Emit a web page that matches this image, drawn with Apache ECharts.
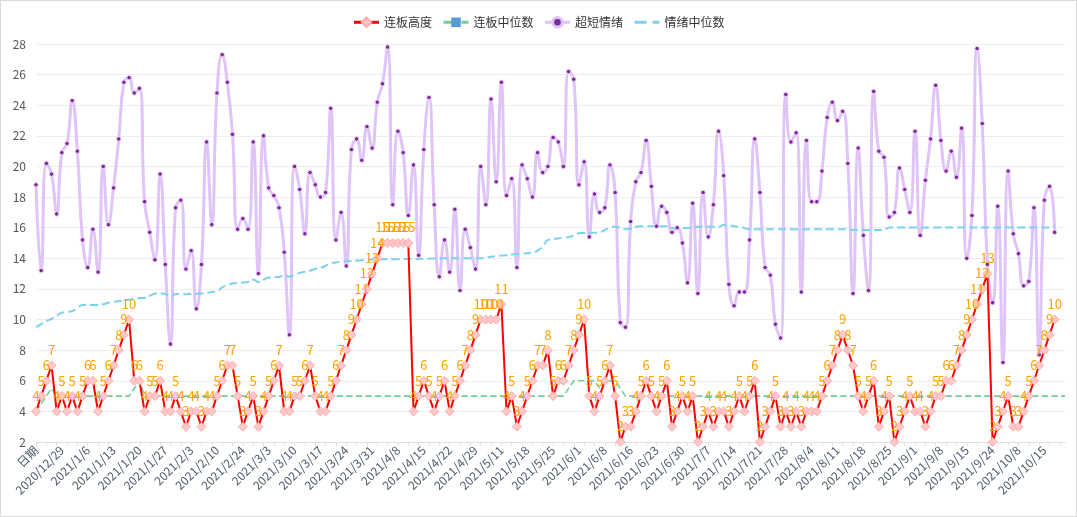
<!DOCTYPE html>
<html>
<head>
<meta charset="utf-8">
<script src="https://cdn.jsdelivr.net/npm/echarts@6/dist/echarts.min.js"></script>
<style>
html,body{margin:0;padding:0;background:#fff;}
#c{width:1077px;height:517px;box-sizing:border-box;border:1px solid #d9d9d9;}
</style>
</head>
<body>
<div id="c"></div>
<script>
var categories = ["日期","2020/12/23","2020/12/24","2020/12/25","2020/12/28","2020/12/29","2020/12/30","2020/12/31","2021/1/4","2021/1/5",
"2021/1/6","2021/1/7","2021/1/8","2021/1/11","2021/1/12","2021/1/13","2021/1/14","2021/1/15","2021/1/18","2021/1/19",
"2021/1/20","2021/1/21","2021/1/22","2021/1/25","2021/1/26","2021/1/27","2021/1/28","2021/1/29","2021/2/1","2021/2/2",
"2021/2/3","2021/2/4","2021/2/5","2021/2/8","2021/2/9","2021/2/10","2021/2/18","2021/2/19","2021/2/22","2021/2/23",
"2021/2/24","2021/2/25","2021/2/26","2021/3/1","2021/3/2","2021/3/3","2021/3/4","2021/3/5","2021/3/8","2021/3/9",
"2021/3/10","2021/3/11","2021/3/12","2021/3/15","2021/3/16","2021/3/17","2021/3/18","2021/3/19","2021/3/22","2021/3/23",
"2021/3/24","2021/3/25","2021/3/26","2021/3/29","2021/3/30","2021/3/31","2021/4/1","2021/4/2","2021/4/6","2021/4/7",
"2021/4/8","2021/4/9","2021/4/12","2021/4/13","2021/4/14","2021/4/15","2021/4/16","2021/4/19","2021/4/20","2021/4/21",
"2021/4/22","2021/4/23","2021/4/26","2021/4/27","2021/4/28","2021/4/29","2021/4/30","2021/5/6","2021/5/7","2021/5/10",
"2021/5/11","2021/5/12","2021/5/13","2021/5/14","2021/5/17","2021/5/18","2021/5/19","2021/5/20","2021/5/21","2021/5/24",
"2021/5/25","2021/5/26","2021/5/27","2021/5/28","2021/5/31","2021/6/1","2021/6/2","2021/6/3","2021/6/4","2021/6/7",
"2021/6/8","2021/6/9","2021/6/10","2021/6/11","2021/6/15","2021/6/16","2021/6/17","2021/6/18","2021/6/21","2021/6/22",
"2021/6/23","2021/6/24","2021/6/25","2021/6/28","2021/6/29","2021/6/30","2021/7/1","2021/7/2","2021/7/5","2021/7/6",
"2021/7/7","2021/7/8","2021/7/9","2021/7/12","2021/7/13","2021/7/14","2021/7/15","2021/7/16","2021/7/19","2021/7/20",
"2021/7/21","2021/7/22","2021/7/23","2021/7/26","2021/7/27","2021/7/28","2021/7/29","2021/7/30","2021/8/2","2021/8/3",
"2021/8/4","2021/8/5","2021/8/6","2021/8/9","2021/8/10","2021/8/11","2021/8/12","2021/8/13","2021/8/16","2021/8/17",
"2021/8/18","2021/8/19","2021/8/20","2021/8/23","2021/8/24","2021/8/25","2021/8/26","2021/8/27","2021/8/30","2021/8/31",
"2021/9/1","2021/9/2","2021/9/3","2021/9/6","2021/9/7","2021/9/8","2021/9/9","2021/9/10","2021/9/13","2021/9/14",
"2021/9/15","2021/9/16","2021/9/17","2021/9/22","2021/9/23","2021/9/24","2021/9/27","2021/9/28","2021/9/29","2021/9/30",
"2021/10/8","2021/10/11","2021/10/12","2021/10/13","2021/10/14","2021/10/15","2021/10/18","2021/10/19","2021/10/20","2021/10/21"];

var lianbanHeight = [4,5,6,7,4,5,4,5,4,5,
6,6,4,5,6,7,8,9,10,6,
6,4,5,5,6,4,4,5,4,3,
4,4,3,4,4,5,6,7,7,5,
3,4,5,3,4,5,6,7,4,4,
5,5,6,7,5,4,4,5,6,7,
8,9,10,11,12,13,14,15,15,15,
15,15,15,4,5,6,5,4,5,6,
4,5,6,7,8,9,10,10,10,10,
11,4,5,3,4,5,6,7,7,8,
5,6,6,7,8,9,10,5,4,5,
6,7,5,2,3,3,4,5,6,5,
4,5,6,3,4,5,4,5,2,3,
4,3,4,4,3,4,5,4,5,6,
2,3,4,5,3,4,3,4,3,4,
4,4,5,6,7,8,9,8,7,5,
4,5,6,3,4,5,2,3,4,5,
4,4,3,4,5,5,6,6,7,8,
9,10,11,12,13,2,3,4,5,3,
3,4,5,6,7,8,9,10];

var lianbanMedian = [4,4.5,5,5.5,5,5,5,5,5,5,
5,5,5,5,5,5,5,5,5,5.5,
6,5,5,5,5,5,5,5,5,5,
5,5,5,5,5,5,5,5,5,5,
5,5,5,5,5,5,5,5,5,5,
5,5,5,5,5,5,5,5,5,5,
5,5,5,5,5,5,5,5,5,5,
5,5,5,5,5,5,5,5,5,5,
5,5,5,5,5,5,5,5,5,5,
5,5,5,5,5,5,5,5,5,5,
5,5,5,5.5,6,6,6,6,6,5.5,
6,6,6,5.5,5,5,5,5,5,5,
5,5,5,5,5,5,5,5,5,5,
5,5,5,5,5,5,5,5,5,5,
5,5,5,5,5,5,5,5,5,5,
5,5,5,5,5,5,5,5,5,5,
5,5,5,5,5,5,5,5,5,5,
5,5,5,5,5,5,5,5,5,5,
5,5,5,5,5,5,5,5,5,5,
5,5,5,5,5,5,5,5,5,5];

var sentiment = [18.8,13.2,20.2,19.5,16.9,20.9,21.5,24.3,21.0,15.2,
13.4,15.9,13.1,20.0,16.2,18.6,21.8,25.5,25.8,24.8,
25.1,17.7,15.7,13.9,19.5,13.6,8.4,17.3,17.8,13.3,
14.5,10.7,13.6,21.6,16.2,24.8,27.3,25.5,22.1,15.9,
16.6,15.9,21.6,13.0,22.0,18.6,18.1,17.3,14.4,9.0,
20.0,18.5,15.6,19.6,18.8,18.0,18.3,23.8,15.2,17.0,
13.5,21.1,21.8,20.4,22.6,21.2,24.2,25.4,27.8,17.5,
22.3,20.9,16.8,20.1,14.2,21.1,24.5,17.5,12.8,15.2,
13.1,17.2,11.9,15.9,14.7,13.3,20.0,17.5,24.4,19.0,
25.5,18.1,19.2,13.4,20.1,19.2,18.0,20.9,19.6,20.0,
21.9,21.6,20.0,26.2,25.7,18.8,20.3,15.4,18.2,17.0,
17.3,20.1,18.3,9.8,9.5,16.4,19.0,19.6,21.7,18.7,
16.1,17.4,17.0,15.7,16.0,15.0,12.4,17.6,11.7,18.3,
15.4,17.5,22.3,19.4,12.3,10.9,11.8,11.8,15.2,21.8,
18.3,13.4,12.9,9.7,8.8,24.7,21.6,22.2,11.8,21.7,
17.7,17.7,19.7,23.2,24.2,23.0,23.6,20.2,11.7,21.2,
15.5,11.9,24.9,21.0,20.6,16.7,17.0,19.9,18.5,17.0,
22.3,15.5,19.1,21.8,25.3,21.7,19.7,21.0,19.3,22.5,
14.0,16.8,27.7,22.8,13.6,11.1,17.4,7.2,19.7,15.6,
14.3,12.2,12.5,17.3,7.7,17.8,18.7,15.7];

var sentimentMedian = [9.5,9.7,9.9,10.05,10.25,10.45,10.5,10.55,10.75,10.95,
10.95,10.95,10.95,11.0,11.1,11.15,11.2,11.25,11.3,11.35,
11.4,11.4,11.55,11.68,11.7,11.68,11.5,11.65,11.68,11.65,
11.68,11.68,11.7,11.75,11.8,11.85,12.1,12.25,12.35,12.4,
12.42,12.45,12.62,12.45,12.6,12.75,12.77,12.78,12.9,12.8,
12.95,13.05,13.12,13.2,13.3,13.38,13.5,13.68,13.72,13.78,
13.8,13.82,13.85,13.88,13.9,13.92,13.94,13.94,13.94,13.94,
13.94,13.95,13.95,13.95,13.96,13.97,13.98,13.98,13.99,14.0,
14.0,14.0,14.0,14.0,14.0,14.0,14.0,14.05,14.1,14.15,
14.18,14.2,14.25,14.28,14.3,14.33,14.37,14.5,14.8,15.2,
15.25,15.3,15.35,15.38,15.5,15.63,15.65,15.66,15.67,15.7,
15.85,16.0,16.06,16.0,15.9,15.95,16.05,16.1,16.1,16.1,
16.1,16.1,16.1,15.98,15.98,15.98,15.98,15.98,16.06,16.06,
16.06,16.06,16.06,16.17,16.15,16.1,16.06,15.98,15.9,15.9,
15.9,15.9,15.9,15.9,15.9,15.9,15.9,15.9,15.9,15.9,
15.9,15.9,15.9,15.9,15.9,15.9,15.9,15.9,15.85,15.85,
15.85,15.85,15.85,15.85,15.85,16.02,16.02,16.02,16.02,16.02,
16.02,16.02,16.02,16.02,16.02,16.02,16.02,16.02,16.02,16.02,
16.02,16.02,16.02,16.02,16.02,16.02,16.02,16.02,16.02,16.02,
16.02,16.02,16.02,16.02,16.02,16.02,16.02,16.1];

var yTicks = {min: 2, max: 28, interval: 2};

var chart = echarts.init(document.getElementById('c'), null, {renderer: 'canvas'});
chart.setOption({
  animation: false,
  textStyle: {fontFamily: '"Noto Sans CJK SC", "Noto Sans", sans-serif'},
  legend: {
    top: 10, left: 'center', itemWidth: 25, itemHeight: 12, itemGap: 10,
    textStyle: {fontSize: 12, color: '#333'},
    data: [
      {name: '连板高度', lineStyle: {width: 3}},
      {name: '连板中位数', itemStyle: {color: '#5b9bd5', borderWidth: 0}, lineStyle: {width: 3}},
      {name: '超短情绪', itemStyle: {color: '#7a2a9a', borderColor: '#dfc4f7', borderWidth: 3}, lineStyle: {width: 3}},
      {name: '情绪中位数', itemStyle: {opacity: 0}, lineStyle: {width: 3}}
    ]
  },
  grid: {left: 35, right: 11, top: 43, bottom: 74, containLabel: false},
  xAxis: {
    type: 'category', boundaryGap: false, data: categories,
    axisLine: {lineStyle: {color: '#e0e0e0'}},
    axisTick: {interval: 1, length: 4, lineStyle: {color: '#e0e0e0'}},
    axisLabel: {interval: 4, rotate: 45, fontSize: 12, color: '#4f5a6e', margin: 6}
  },
  yAxis: {
    type: 'value', min: yTicks.min, max: yTicks.max, interval: yTicks.interval,
    axisLine: {show: false}, axisTick: {show: false},
    axisLabel: {fontSize: 12, color: '#555', margin: 10},
    splitLine: {lineStyle: {color: '#eeeeee'}}
  },
  series: [
    {
      name: '连板高度', type: 'line', data: lianbanHeight, z: 5,
      symbol: 'diamond', symbolSize: 9, showAllSymbol: true,
      lineStyle: {color: '#ff0000', width: 2},
      itemStyle: {color: '#ffc8c8', borderColor: '#ffaaaa', borderWidth: 1},
      label: {show: true, position: 'top', color: '#ffa200', fontSize: 13, distance: 4}
    },
    {
      name: '连板中位数', type: 'line', data: lianbanMedian, z: 3,
      symbol: 'rect', symbolSize: [6, 10], showSymbol: false,
      lineStyle: {color: '#6fcf97', width: 1.6, type: 'dashed'},
      itemStyle: {color: '#5b9bd5'}
    },
    {
      name: '超短情绪', type: 'line', data: sentiment, smooth: true, z: 2,
      symbol: 'circle', symbolSize: 4.5, showAllSymbol: true,
      lineStyle: {color: '#dfc4f7', width: 3},
      itemStyle: {color: '#7a2a9a', borderColor: '#f6d2f6', borderWidth: 1}
    },
    {
      name: '情绪中位数', type: 'line', data: sentimentMedian, smooth: true, z: 2,
      symbol: 'circle', showSymbol: false,
      lineStyle: {color: '#7cd0f0', width: 2, type: 'dashed'},
      itemStyle: {color: '#7cd0f0'}
    }
  ]
});
</script>
</body>
</html>
